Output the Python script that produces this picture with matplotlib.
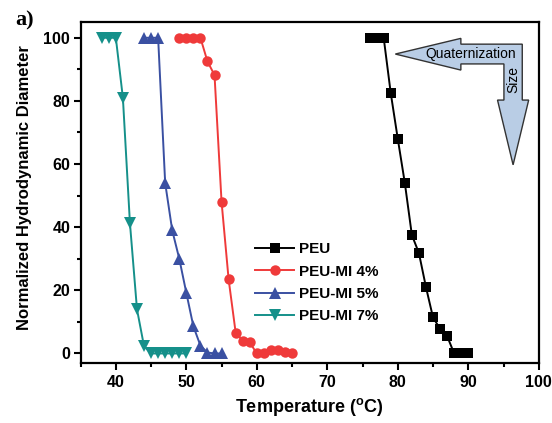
import matplotlib
matplotlib.use('Agg')
import matplotlib.pyplot as plt
from matplotlib.patches import Polygon
from matplotlib.ticker import MultipleLocator

plt.rcParams['font.family'] = 'Liberation Sans'
plt.rcParams['font.weight'] = 'bold'
plt.rcParams['mathtext.fontset'] = 'custom'
plt.rcParams['mathtext.bf'] = 'Liberation Sans:bold'
plt.rcParams['mathtext.rm'] = 'Liberation Sans:bold'

# Normalized hydrodynamic diameter vs temperature

t_peu = [76, 77, 78, 79, 80, 81, 82, 83, 84, 85, 86, 87, 88, 89, 90]
d_peu = [100, 100, 100, 82.5, 68, 54, 37.5, 31.8, 21, 11.4, 7.8, 5.5, 0, 0, 0]

t_mi4 = [49, 50, 51, 52, 53, 54, 55, 56, 57, 58, 59, 60, 61, 62, 63, 64, 65]
d_mi4 = [100, 100, 100, 100, 92.5, 88.2, 48, 23.5, 6.6, 4, 3.5, 0, 0.2, 1, 1.2, 0.5, 0]

t_mi5 = [44, 45, 46, 47, 48, 49, 50, 51, 52, 53, 54, 55]
d_mi5 = [100, 100, 100, 54, 39, 30, 19.2, 8.6, 2.5, 0.3, 0, 0]

t_mi7 = [38, 39, 40, 41, 42, 43, 44, 45, 46, 47, 48, 49, 50]
d_mi7 = [100, 100, 100, 81, 41.3, 14, 2.3, 0, 0, 0, 0, 0, 0]

labels = ['PEU', 'PEU-MI 4%', 'PEU-MI 5%', 'PEU-MI 7%']
colors = ['#000000', '#ef3a3a', '#3a50a2', '#15908a']
markers = ['s', 'o', '^', 'v']
msizes = [6.5, 7.5, 8, 8]

fig = plt.figure(figsize=(5.52, 4.23), dpi=100)
ax = fig.add_axes([0.146, 0.142, 0.830, 0.806])

series = [(t_peu, d_peu), (t_mi4, d_mi4), (t_mi5, d_mi5), (t_mi7, d_mi7)]
for (t, d), lab, c, m, ms in zip(series, labels, colors, markers, msizes):
    ax.plot(t, d, color=c, marker=m, markersize=ms, linewidth=1.4,
            markeredgewidth=0, label=lab)

ax.set_xlim(35, 100)
ax.set_ylim(-3, 105)
ax.xaxis.set_major_locator(MultipleLocator(10))
ax.xaxis.set_minor_locator(MultipleLocator(5))
ax.yaxis.set_major_locator(MultipleLocator(20))
ax.yaxis.set_minor_locator(MultipleLocator(10))
ax.tick_params(which='both', direction='out', width=1.5, top=False, right=False,
               labelsize=11.5)
ax.tick_params(which='major', length=5)
ax.tick_params(which='minor', length=3)
ax.tick_params(axis='x', pad=4)
ax.tick_params(axis='y', pad=2.5)
for sp in ax.spines.values():
    sp.set_linewidth(1.6)

ax.set_xlabel(r'Temperature ($^{\mathbf{o}}$C)', fontsize=13, fontweight='bold')
ax.set_ylabel('Normalized Hydrodynamic Diameter', fontsize=12, fontweight='bold')
ax.yaxis.set_label_coords(-0.106, 0.515)

ax.legend(loc='center left', bbox_to_anchor=(0.38, 0.235), frameon=False,
          fontsize=11, handlelength=2.6, handletextpad=0.3, labelspacing=0.55,
          borderpad=0, borderaxespad=0)

# L-shaped arrow: quaternization (left) and size (down)
arrow_pts = [(0.687, 0.906), (0.830, 0.952), (0.830, 0.935), (0.964, 0.935),
             (0.964, 0.771), (0.978, 0.771), (0.944, 0.581), (0.910, 0.771),
             (0.924, 0.771), (0.924, 0.877), (0.830, 0.877), (0.830, 0.859)]
ax.add_patch(Polygon(arrow_pts, closed=True, transform=ax.transAxes,
                     facecolor='#b9cde5', edgecolor='#333333', linewidth=1.0,
                     zorder=5))
ax.text(0.852, 0.906, 'Quaternization', transform=ax.transAxes, fontsize=10,
        fontweight='normal', ha='center', va='center', zorder=6)
ax.text(0.944, 0.83, 'Size', transform=ax.transAxes, fontsize=10,
        fontweight='normal', rotation=90, ha='center', va='center', zorder=6)

fig.text(0.027, 0.94, 'a)', fontsize=16, fontweight='bold',
         family='Liberation Serif', va='baseline')

fig.savefig('out.png', dpi=100)
